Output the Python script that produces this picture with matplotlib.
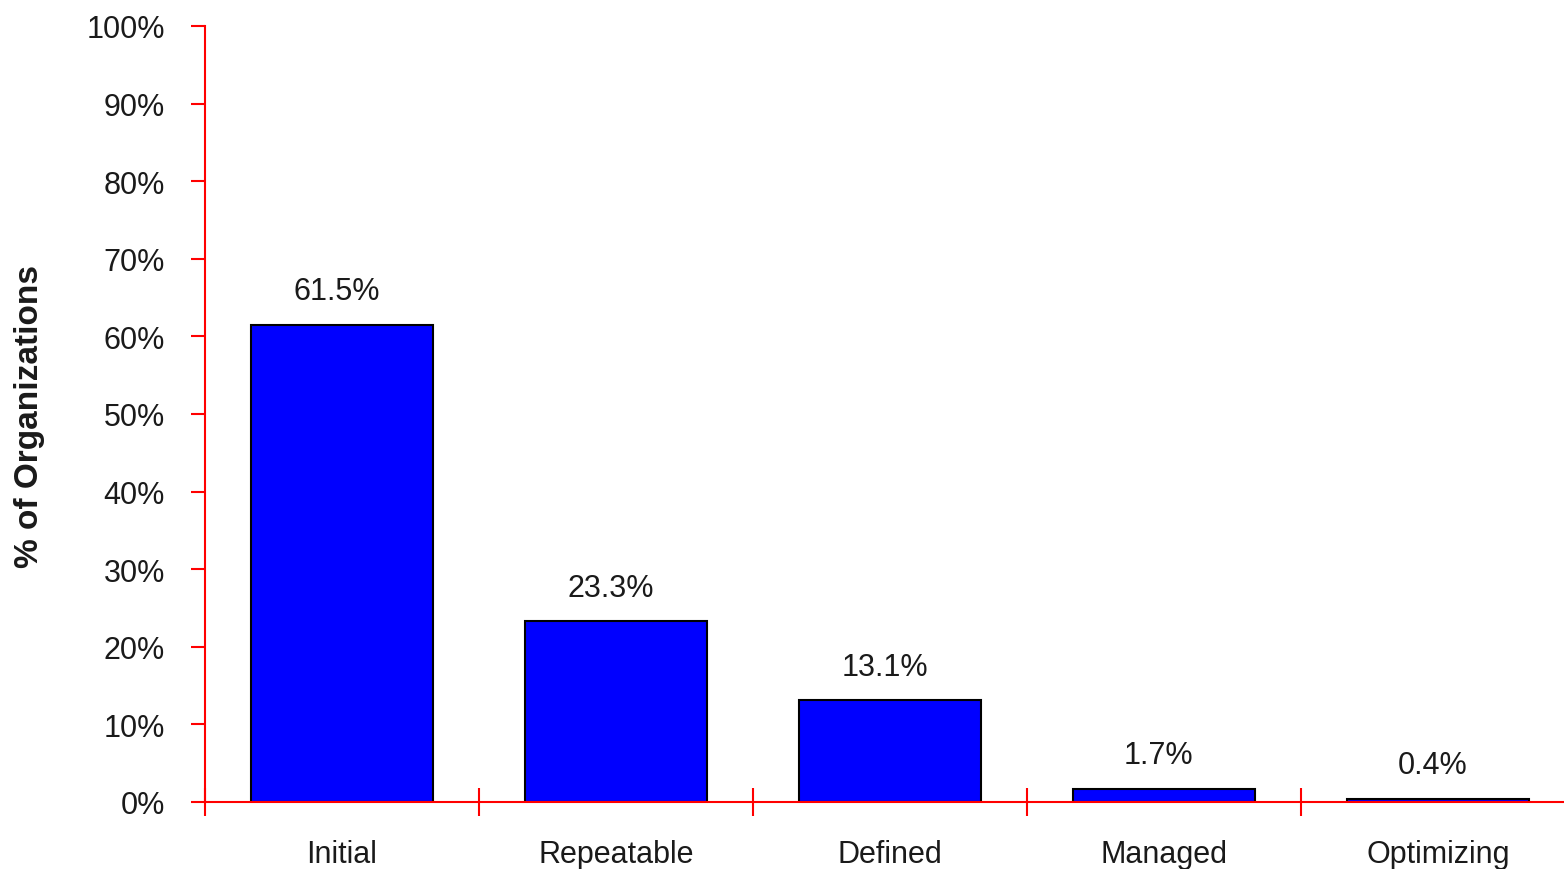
import matplotlib.pyplot as plt
import numpy as np

# CMM maturity level distribution
levels = ["Initial", "Repeatable", "Defined", "Managed", "Optimizing"]
pct = [61.5, 23.3, 13.1, 1.7, 0.4]
yticks = [0, 10, 20, 30, 40, 50, 60, 70, 80, 90, 100]

plt.rcParams["font.family"] = ["Liberation Sans", "DejaVu Sans"]
text_color = "#1a1a1a"

fig = plt.figure(figsize=(15.64, 8.7), dpi=100)
ax = fig.add_axes([205 / 1564, 67 / 870, 1370 / 1564, 776 / 870])

x = np.arange(len(levels))
bars = ax.bar(x, pct, width=0.664, color="#0000ff", edgecolor="black",
              linewidth=1.5, zorder=2)

for xi, v in zip(x, pct):
    ax.text(xi - 0.02, v + 2.4, f"{v:.1f}%", ha="center", va="bottom",
            fontsize=22, color=text_color)

ax.set_xlim(-0.5, len(levels) - 0.5)
ax.set_ylim(0, 100)

ax.set_yticks(yticks)
ax.set_yticklabels([f"{t}%" for t in yticks])
ax.tick_params(axis="y", colors="red", length=10, width=1.5, labelsize=22,
               labelcolor=text_color, pad=19)

# labels sit at category centres, tick marks at category boundaries
ax.set_xticks(x)
ax.set_xticklabels(levels)
ax.tick_params(axis="x", which="major", length=0, labelsize=22,
               labelcolor=text_color, pad=27)
ax.set_xticks(np.arange(len(levels)) - 0.5, minor=True)
ax.tick_params(axis="x", which="minor", colors="red", direction="inout",
               length=20, width=1.5)

for side in ("top", "right"):
    ax.spines[side].set_visible(False)
for side in ("left", "bottom"):
    ax.spines[side].set_color("red")
    ax.spines[side].set_linewidth(1.5)
    ax.spines[side].set_zorder(3)

fig.text(30 / 1564, 1 - 416 / 870, "% of Organizations", rotation=90,
         ha="center", va="center", fontsize=24, fontweight="bold",
         color=text_color)

fig.savefig("out.png", dpi=100)
